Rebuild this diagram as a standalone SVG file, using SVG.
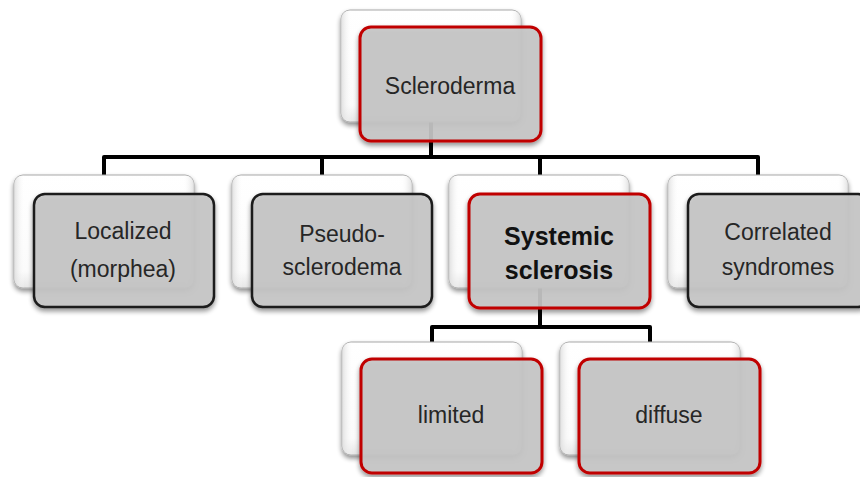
<svg xmlns="http://www.w3.org/2000/svg" width="860" height="477" viewBox="0 0 860 477">
<defs>
<linearGradient id="gBack" x1="0" y1="0" x2="0" y2="1">
<stop offset="0" stop-color="#ffffff"/>
<stop offset="0.85" stop-color="#fbfbfb"/>
<stop offset="1" stop-color="#e6e6e6"/>
</linearGradient>
<linearGradient id="gBackSide" x1="0" y1="0" x2="1" y2="0">
<stop offset="0" stop-color="#d8d8d8" stop-opacity="0.8"/>
<stop offset="0.06" stop-color="#ffffff" stop-opacity="0"/>
<stop offset="0.94" stop-color="#ffffff" stop-opacity="0"/>
<stop offset="1" stop-color="#d8d8d8" stop-opacity="0.8"/>
</linearGradient>
<filter id="sh" x="-10%" y="-10%" width="125%" height="130%">
<feGaussianBlur in="SourceAlpha" stdDeviation="2.5"/>
<feOffset dx="0" dy="3" result="b"/>
<feComponentTransfer><feFuncA type="linear" slope="0.45"/></feComponentTransfer>
<feMerge><feMergeNode/><feMergeNode in="SourceGraphic"/></feMerge>
</filter>
</defs>
<style>
.back{fill:url(#gBack);stroke:#a8a8a8;stroke-width:1}
.backs{fill:url(#gBackSide);stroke:none}
.front{fill:#c6c6c6;fill-opacity:0.9;stroke-width:3}
.red{stroke:#c00000}
.dark{stroke:#1c1c1c;stroke-width:2.5}
.t{font-family:"Liberation Sans",Arial,sans-serif;font-size:23px;fill:#262626;text-anchor:middle}
.b{font-weight:bold;font-size:25px;fill:#111}
.conn{fill:none;stroke:#000;stroke-width:4;stroke-linejoin:round;stroke-linecap:butt}
</style>
<rect width="860" height="477" fill="#ffffff"/>
<g id="connectors">
<path class="conn" d="M431,122 V157"/>
<path class="conn" d="M104,176 V157 H758 V176"/>
<path class="conn" d="M322,157 V176"/>
<path class="conn" d="M540,157 V176"/>
<path class="conn" d="M540,288 V327"/>
<path class="conn" d="M432,343 V327 H650 V343"/>
</g>
<g id="scleroderma">
<g filter="url(#sh)"><rect class="back" x="341" y="10" width="180" height="112" rx="9"/></g>
<rect class="backs" x="341" y="10" width="180" height="112" rx="9"/>
<g filter="url(#sh)"><rect class="front red" x="360" y="27" width="181" height="114" rx="11"/></g>
<text class="t" x="450" y="94">Scleroderma</text>
</g>
<g id="localized">
<g filter="url(#sh)"><rect class="back" x="14" y="175" width="180" height="113" rx="9"/></g>
<rect class="backs" x="14" y="175" width="180" height="113" rx="9"/>
<g filter="url(#sh)"><rect class="front dark" x="34" y="194" width="180" height="113" rx="11"/></g>
<text class="t" x="123" y="239">Localized</text>
<text class="t" x="123" y="277">(morphea)</text>
</g>
<g id="pseudo">
<g filter="url(#sh)"><rect class="back" x="232" y="175" width="180" height="113" rx="9"/></g>
<rect class="backs" x="232" y="175" width="180" height="113" rx="9"/>
<g filter="url(#sh)"><rect class="front dark" x="252" y="194" width="180" height="113" rx="11"/></g>
<text class="t" x="342" y="242">Pseudo-</text>
<text class="t" x="342" y="275">sclerodema</text>
</g>
<g id="systemic">
<g filter="url(#sh)"><rect class="back" x="449" y="175" width="180" height="113" rx="9"/></g>
<rect class="backs" x="449" y="175" width="180" height="113" rx="9"/>
<g filter="url(#sh)"><rect class="front red" x="469" y="194" width="181" height="114" rx="11"/></g>
<text class="t b" x="559" y="245">Systemic</text>
<text class="t b" x="559" y="279">sclerosis</text>
</g>
<g id="correlated">
<g filter="url(#sh)"><rect class="back" x="668" y="175" width="180" height="113" rx="9"/></g>
<rect class="backs" x="668" y="175" width="180" height="113" rx="9"/>
<g filter="url(#sh)"><rect class="front dark" x="688" y="194" width="181" height="113" rx="11"/></g>
<text class="t" x="778" y="240">Correlated</text>
<text class="t" x="778" y="275">syndromes</text>
</g>
<g id="limited">
<g filter="url(#sh)"><rect class="back" x="342" y="342" width="180" height="113" rx="9"/></g>
<rect class="backs" x="342" y="342" width="180" height="113" rx="9"/>
<g filter="url(#sh)"><rect class="front red" x="361" y="359" width="181" height="114" rx="11"/></g>
<text class="t" x="451" y="423">limited</text>
</g>
<g id="diffuse">
<g filter="url(#sh)"><rect class="back" x="560" y="342" width="180" height="113" rx="9"/></g>
<rect class="backs" x="560" y="342" width="180" height="113" rx="9"/>
<g filter="url(#sh)"><rect class="front red" x="579" y="359" width="181" height="114" rx="11"/></g>
<text class="t" x="669" y="423">diffuse</text>
</g>
</svg>
